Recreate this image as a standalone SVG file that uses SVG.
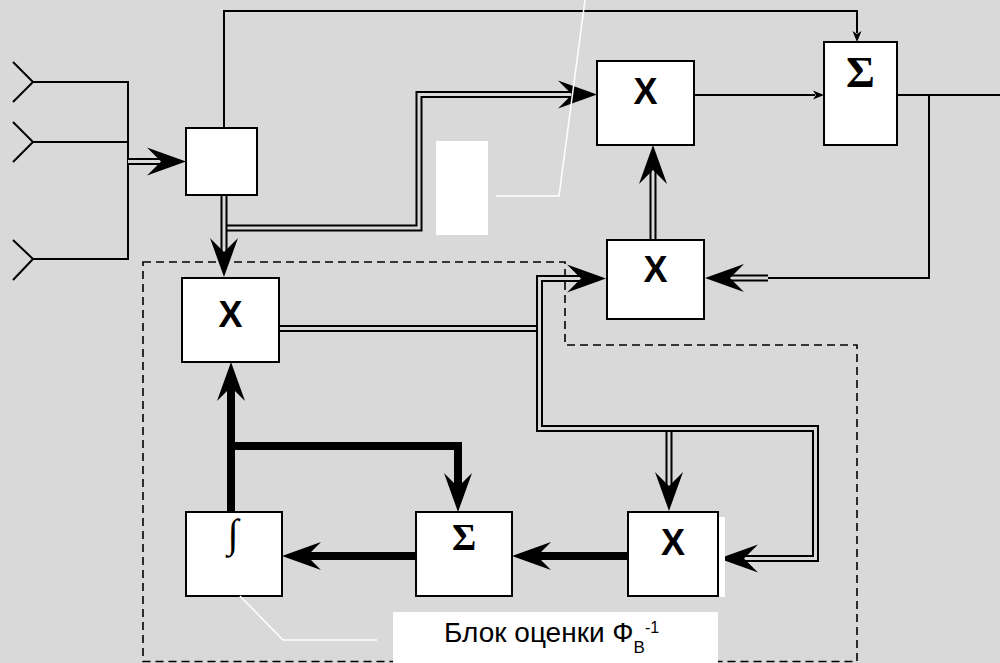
<svg xmlns="http://www.w3.org/2000/svg" xmlns:xlink="http://www.w3.org/1999/xlink" width="1000" height="663" viewBox="0 0 1000 663">
  <style>
    .thin { fill: none; stroke: #000; stroke-width: 2; }
    .dbl-o { fill: none; stroke: #000; stroke-width: 7; stroke-linejoin: miter; }
    .dbl-i { fill: none; stroke: #d9d9d9; stroke-width: 3; stroke-linejoin: miter; }
    .thick { fill: none; stroke: #000; stroke-width: 8; stroke-linejoin: miter; }
    .box { fill: #fff; stroke: #000; stroke-width: 2; }
    .mul { font-family: "Liberation Sans", Arial, sans-serif; font-weight: bold; font-size: 36px; text-anchor: middle; fill: #000; }
    .sum { font-family: "Liberation Serif", "Times New Roman", serif; font-weight: bold; text-anchor: middle; fill: #000; }
    .int { font-family: "Liberation Serif", "DejaVu Serif", serif; text-anchor: middle; fill: #000; }
    .lbl { font-family: "Liberation Sans", Arial, sans-serif; font-size: 28px; fill: #000; }
    .dash { fill: none; stroke: #000; stroke-width: 1.6; stroke-dasharray: 8 5; }
    .lead { fill: none; stroke: #fff; stroke-width: 1.5; }
  </style>
  <defs>
    <!-- large swept arrowhead, tip at origin, pointing +x -->
    <path id="ah" d="M0,0 L-39,-14 L-25,0 L-39,14 Z" fill="#000"/>
    <!-- small arrowhead for thin signal lines -->
    <path id="ah-s" d="M0,0 L-11,-4.5 L-8,0 L-11,4.5 Z" fill="#000"/>
  </defs>

  <rect width="1000" height="663" fill="#d9d9d9"/>

  <!-- antenna elements -->
  <g id="antennas" class="thin">
    <path d="M13,62 L33,82 L13,102 M33,82 H128"/>
    <path d="M13,122 L33,142 L13,162 M33,142 H128"/>
    <path d="M13,240 L33,259 L13,280 M33,259 H128"/>
    <path d="M128,81 V260"/>
  </g>

  <!-- estimator boundary -->
  <path id="estimator-frame" class="dash" d="M143,262 H565 V345 H857 V661.5 H143 Z"/>

  <g id="connectors">
    <!-- thin signal lines -->
    <path class="thin" d="M224,128 V11 H857 V33"/>
    <use xlink:href="#ah-s" transform="translate(857,42) rotate(90)"/>
    <path class="thin" d="M694,95 H815"/>
    <use xlink:href="#ah-s" transform="translate(824,95)"/>
    <path class="thin" d="M897,95 H1000"/>
    <path class="thin" d="M929,95 V278 H768"/>

    <!-- vector (double) lines -->
    <path class="dbl-o" d="M128,161.5 H166"/>
    <path class="dbl-i" d="M128,161.5 H166"/>
    <use xlink:href="#ah" transform="translate(186,161.5)"/>

    <path class="dbl-o" d="M227,228 H419 V94.5 H578"/>
    <path class="dbl-i" d="M227,228 H419 V94.5 H578"/>
    <use xlink:href="#ah" transform="translate(597,94.5)"/>

    <path class="dbl-o" d="M224,195 V258"/>
    <path class="dbl-i" d="M224,195 V258"/>
    <use xlink:href="#ah" transform="translate(224,277) rotate(90)"/>

    <path class="dbl-o" d="M653,240 V164"/>
    <path class="dbl-i" d="M653,240 V164"/>
    <use xlink:href="#ah" transform="translate(653,145) rotate(-90)"/>

    <path class="dbl-o" d="M768,278 H725"/>
    <path class="dbl-i" d="M768,278 H725"/>
    <use xlink:href="#ah" transform="translate(705,278) rotate(180)"/>

    <path class="dbl-o" d="M279,328.5 H537"/>
    <path class="dbl-i" d="M279,328.5 H537"/>

    <path class="dbl-o" d="M669,431 V492"/>
    <path class="dbl-i" d="M669,431 V492"/>
    <use xlink:href="#ah" transform="translate(669,511) rotate(90)"/>

    <path class="dbl-o" d="M587,278.5 H539.5 V428.5 H815.5 V558.5 H739"/>
    <path class="dbl-i" d="M587,278.5 H539.5 V428.5 H815.5 V558.5 H739"/>
    <use xlink:href="#ah" transform="translate(606,278.5)"/>
    <use xlink:href="#ah" transform="translate(719,558.5) rotate(180)"/>

    <!-- scalar (bold) loop -->
    <path class="thick" d="M231,512 V382"/>
    <use xlink:href="#ah" transform="translate(231,362) rotate(-90)"/>
    <path class="thick" d="M231,446 H458 V492"/>
    <use xlink:href="#ah" transform="translate(458,512) rotate(90)"/>
    <path class="thick" d="M416,556 H302"/>
    <use xlink:href="#ah" transform="translate(282,556) rotate(180)"/>
    <path class="thick" d="M628,556 H532"/>
    <use xlink:href="#ah" transform="translate(512,556) rotate(180)"/>
  </g>

  <g id="splitter">
    <rect class="box" x="186" y="128" width="71" height="67"/>
  </g>

  <g id="mul-out">
    <rect class="box" x="597" y="61" width="97" height="84"/>
    <text class="mul" x="645.5" y="104">X</text>
  </g>

  <g id="sum-out">
    <rect class="box" x="824" y="42" width="73" height="103"/>
    <text class="sum" x="860.5" y="87" font-size="44">Σ</text>
  </g>

  <g id="mul-feedback">
    <rect class="box" x="607" y="240" width="97" height="79"/>
    <text class="mul" x="655.5" y="282">X</text>
  </g>

  <g id="mul-weight">
    <rect class="box" x="182" y="278" width="97" height="84"/>
    <text class="mul" x="230.5" y="327" font-size="41">X</text>
  </g>

  <g id="integrator">
    <rect class="box" x="186" y="512" width="96" height="84"/>
    <text class="int" x="233" y="547" font-size="40">∫</text>
  </g>

  <g id="sum-loop">
    <rect class="box" x="416" y="512" width="96" height="84"/>
    <text class="sum" x="464" y="550" font-size="37">Σ</text>
  </g>

  <g id="mul-corr">
    <rect x="630" y="517" width="95" height="80" fill="#fff"/>
    <rect class="box" x="628" y="512" width="90" height="84"/>
    <text class="mul" x="673" y="555">X</text>
  </g>

  <!-- callout blank and leader -->
  <g id="callout-top">
    <rect x="436" y="141" width="52" height="94" fill="#fff"/>
    <polyline class="lead" points="496,196 559,196 585,0"/>
  </g>

  <g id="callout-label">
    <polyline class="lead" points="240,596 283,640 377,640"/>
    <rect x="393" y="612" width="325" height="51" fill="#fff"/>
    <text class="lbl" x="444" y="642">Блок оценки Ф<tspan dy="11" font-size="17">В</tspan><tspan dy="-20" font-size="16">-1</tspan></text>
  </g>
</svg>
